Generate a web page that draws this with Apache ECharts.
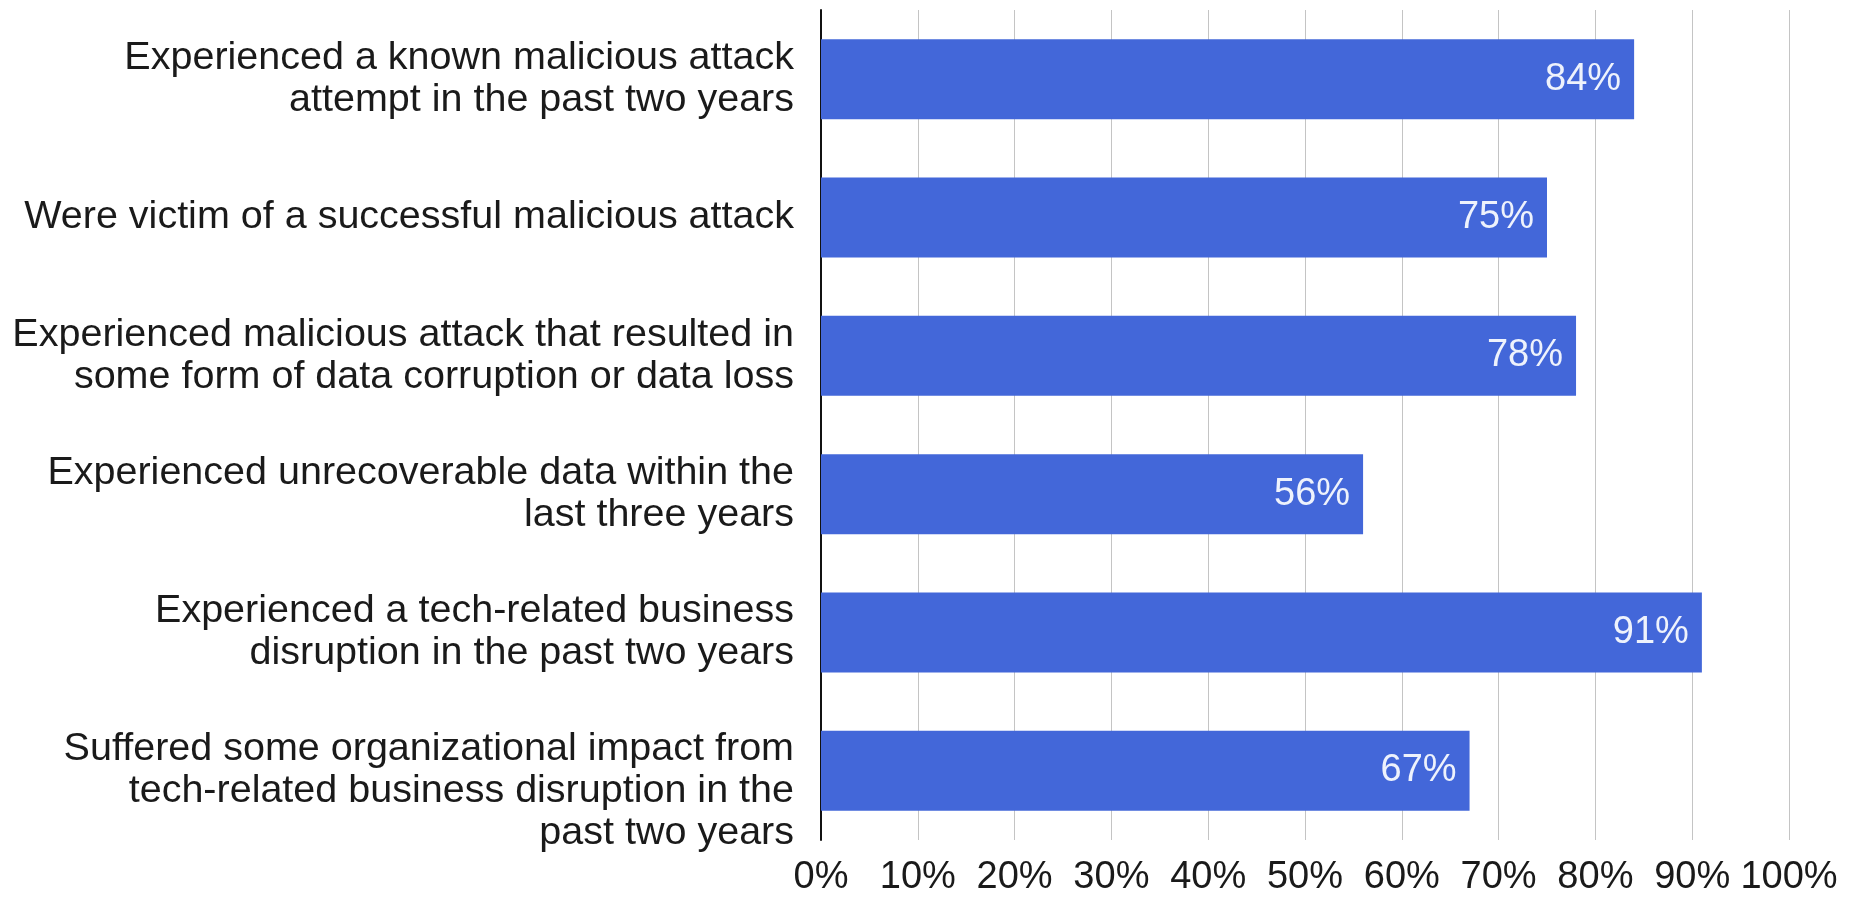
<!DOCTYPE html>
<html>
<head>
<meta charset="utf-8">
<script src="https://cdn.jsdelivr.net/npm/echarts@6/dist/echarts.min.js"></script>
<style>
html,body{margin:0;padding:0;background:#fff;}
#chart{width:1852px;height:897px;}
</style>
</head>
<body>
<div id="chart"></div>
<script>
const categories = [
  "Experienced a known malicious attack\nattempt in the past two years",
  "Were victim of a successful malicious attack",
  "Experienced malicious attack that resulted in\nsome form of data corruption or data loss",
  "Experienced unrecoverable data within the\nlast three years",
  "Experienced a tech-related business\ndisruption in the past two years",
  "Suffered some organizational impact from\ntech-related business disruption in the\npast two years"
];
const values = [84, 75, 78, 56, 91, 67];
const tickMin = 0, tickMax = 100, tickStep = 10;

const FONT = "'Liberation Sans', Arial, Helvetica, sans-serif";
const LABEL = {fontFamily: FONT, fontSize: 39.5, lineHeight: 42, color: '#1a1a1a'};
const chart = echarts.init(document.getElementById('chart'), null, {renderer: 'canvas'});
chart.setOption({
  backgroundColor: '#ffffff',
  animation: false,
  grid: {left: 821, right: 63, top: 10, bottom: 54, containLabel: false},
  xAxis: {
    type: 'value', min: tickMin, max: tickMax, interval: tickStep,
    axisLine: {show: false}, axisTick: {show: false},
    splitLine: {show: true, lineStyle: {color: '#c4c4c4', width: 1}},
    axisLabel: {formatter: '{value}%', fontFamily: FONT, fontSize: 38, color: '#1a1a1a', margin: 19}
  },
  yAxis: {
    type: 'category', inverse: true, data: categories,
    axisLine: {show: true, lineStyle: {color: '#111', width: 2}},
    axisTick: {show: false},
    axisLabel: Object.assign({}, LABEL, {
      margin: 27, align: 'right',
      formatter: (v) => {
        const lines = v.split('\n');
        const body = lines.map(l => '{t|' + l + '}').join('\n');
        return lines.length > 2 ? '{gap|}\n' + body : body;
      },
      rich: {
        t: Object.assign({}, LABEL, {align: 'right'}),
        gap: {fontFamily: FONT, fontSize: 10, lineHeight: 40}
      }
    })
  },
  series: [{
    type: 'bar', data: values, barWidth: 80,
    itemStyle: {color: '#4367d9'},
    label: {show: true, position: 'insideRight', distance: 13, formatter: '{c}%',
      fontFamily: FONT, fontSize: 38, color: '#eef2fc'}
  }]
});
</script>
</body>
</html>
